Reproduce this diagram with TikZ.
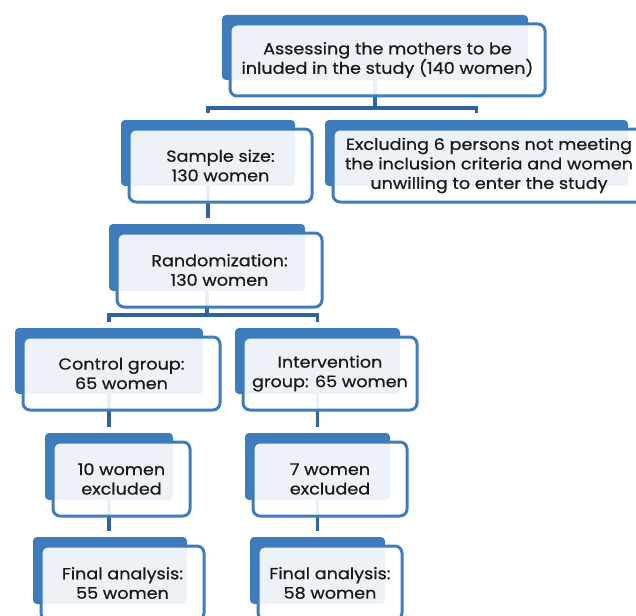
\documentclass[tikz,border=0pt]{standalone}
\usepackage{fontspec}
\setmainfont{Poppins}[FakeStretch=1.1,FakeBold=0.6]
\usetikzlibrary{calc}
\pgfdeclarelayer{back}
\pgfsetlayers{back,main}

\definecolor{boxblue}{RGB}{62,124,187}
\definecolor{linkblue}{RGB}{46,99,158}
\definecolor{inktext}{RGB}{25,25,25}

\tikzset{
    backbox/.style={fill=boxblue,rounded corners=4pt,inner sep=0pt},
    frontbox/.style={draw=boxblue,line width=3pt,fill=white,fill opacity=.9,text opacity=1,text=inktext,
        rounded corners=7pt,align=center,inner sep=0pt,font=\fontsize{16}{19.5}\selectfont},
    link/.style={draw=linkblue,line width=3.5pt},
}

% name, corners of the blue box, text
\newcommand{\flowbox}[6]{
    \node[backbox,minimum width={(#4-#2)*1pt},minimum height={(#5-#3)*1pt}](#1-b)at({(#2+#4)/2},{(#3+#5)/2}){};
    \node[frontbox,minimum width={(#4-#2+9)*1pt},minimum height={(#5-#3+7)*1pt}](#1)at({(#2+#4)/2+12.5},{(#3+#5)/2+12.5}){#6};
}

\begin{document}
\begin{tikzpicture}[x=1pt,y=-1pt]
    \useasboundingbox(0,0)rectangle(636,615);
    \flowbox{assess}{222}{15}{528}{80}{Assessing the mothers to be\\inluded in the study (140 women)}
    \flowbox{sample}{121}{120}{295}{186}{Sample size:\\130 women}
    \flowbox{exclude}{325}{120}{628}{186}{Excluding 6 persons not meeting\\the inclusion criteria and women\\unwilling to enter the study}
    \flowbox{random}{109}{224}{305}{291}{Randomization:\\130 women}
    \flowbox{control}{15}{328}{203}{394}{Control group:\\65 women}
    \flowbox{interv}{235}{328}{400}{394}{Intervention\\group: 65 women}
    \flowbox{lossa}{45}{433}{173}{500}{10 women\\excluded}
    \flowbox{lossb}{245}{433}{390}{500}{7 women\\excluded}
    \flowbox{finala}{33}{537}{187}{604}{Final analysis:\\55 women}
    \flowbox{finalb}{250}{537}{385}{604}{Final analysis:\\58 women}
    \begin{pgfonlayer}{back}
        % branch under the first box
        \coordinate(split1)at([yshift=12pt]sample-b.north);
        \draw[link](assess-b.south)--(assess-b.south|-split1);
        \draw[link]([yshift=7pt]sample-b.north)|-(split1-|exclude-b.north)--([yshift=7pt]exclude-b.north);
        % branch under randomization
        \coordinate(split2)at([yshift=13pt]control-b.north);
        \draw[link](random-b.south)--(random-b.south|-split2);
        \draw[link]([yshift=6pt]control-b.north)|-(split2-|interv-b.north)--([yshift=6pt]interv-b.north);
        \draw[link,shorten >=6pt](sample-b.south)--(sample-b.south|-random-b.north);
        \draw[link,shorten >=6pt](control-b.south)--(control-b.south|-lossa-b.north);
        \draw[link,shorten >=6pt](interv-b.south)--(interv-b.south|-lossb-b.north);
        \draw[link,shorten >=6pt](lossa-b.south)--(lossa-b.south|-finala-b.north);
        \draw[link,shorten >=6pt](lossb-b.south)--(lossb-b.south|-finalb-b.north);
    \end{pgfonlayer}
\end{tikzpicture}
\end{document}
